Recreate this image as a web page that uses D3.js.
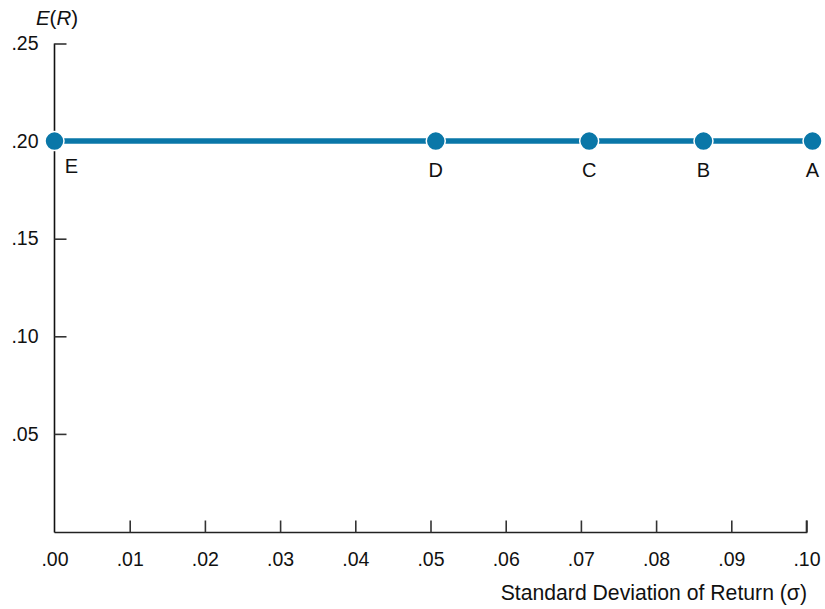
<!DOCTYPE html>
<html><head><meta charset="utf-8">
<script src="https://cdn.jsdelivr.net/npm/d3@7"></script>
<style>body{margin:0;background:#fff}svg{display:block}text{font-family:"Liberation Sans",Arial,Helvetica,sans-serif;fill:#111}</style>
</head><body>
<script>
const labels = ["E","D","C","B","A"];
const sigma = [0.000, 0.0507, 0.0711, 0.0863, 0.1008];
const ret = [0.20, 0.20, 0.20, 0.20, 0.20];
const xTicks = [0,0.01,0.02,0.03,0.04,0.05,0.06,0.07,0.08,0.09,0.10];
const yTicks = [0.05,0.10,0.15,0.20,0.25];

const W=825,H=609;
const svg=d3.select("body").append("svg").attr("width",W).attr("height",H);
const x=d3.scaleLinear().domain([0,0.10]).range([54.5,806.5]);
const y=d3.scaleLinear().domain([0,0.25]).range([531.5,43.5]);
const fmt=d=>d3.format(".2f")(d).replace(/^0/,"");

// x axis
const xa=svg.append("g").attr("transform",`translate(0,532.5)`)
  .call(d3.axisBottom(x).tickValues(xTicks).tickSize(-12).tickPadding(20).tickFormat(fmt));
xa.select(".domain").attr("d",`M54.5,0H806.5V-12`).attr("stroke","#222").attr("stroke-width",1.6);
xa.selectAll(".tick line").attr("stroke","#333").attr("stroke-width",1.6);
xa.selectAll(".tick").filter(d=>d===0).select("line").remove();
xa.selectAll("text").attr("font-size",19.5).attr("fill","#111");

// y axis
const ya=svg.append("g").attr("transform",`translate(54.5,0)`)
  .call(d3.axisLeft(y).tickValues(yTicks).tickSize(-12).tickPadding(16).tickFormat(fmt));
ya.select(".domain").attr("d",`M0,532.5V43.5`).attr("stroke","#111").attr("stroke-width",1.6);
ya.selectAll(".tick line").attr("stroke","#333").attr("stroke-width",1.6);
ya.selectAll("text").attr("font-size",19.5).attr("fill","#111");

// axis titles
const yt=svg.append("text").attr("x",57).attr("y",25).attr("text-anchor","middle").attr("font-size",20.5);
yt.append("tspan").attr("font-style","italic").text("E");
yt.append("tspan").text("(");
yt.append("tspan").attr("font-style","italic").text("R");
yt.append("tspan").text(")");
svg.append("text").attr("x",807).attr("y",600).attr("text-anchor","end").attr("font-size",21.2)
  .text("Standard Deviation of Return (σ)");

// line and points
const col="#0a77a8";
const pts=sigma.map((s,i)=>({s,r:ret[i],l:labels[i]}));
svg.append("path").datum(pts)
  .attr("d",d3.line().x(d=>x(d.s)).y(d=>y(d.r)))
  .attr("fill","none").attr("stroke",col).attr("stroke-width",5.5);
svg.selectAll("circle.p").data(pts).join("circle")
  .attr("cx",d=>x(d.s)).attr("cy",d=>y(d.r)).attr("r",9.5)
  .attr("fill",col).attr("stroke","#fff").attr("stroke-width",1.5);
svg.selectAll("text.lbl").data(pts).join("text").attr("class","lbl")
  .attr("x",d=>d.l==="E"?x(d.s)+17:x(d.s))
  .attr("y",d=>y(d.r)+(d.l==="E"?32:36)).attr("text-anchor","middle").attr("font-size",20)
  .text(d=>d.l);
</script>
</body></html>
